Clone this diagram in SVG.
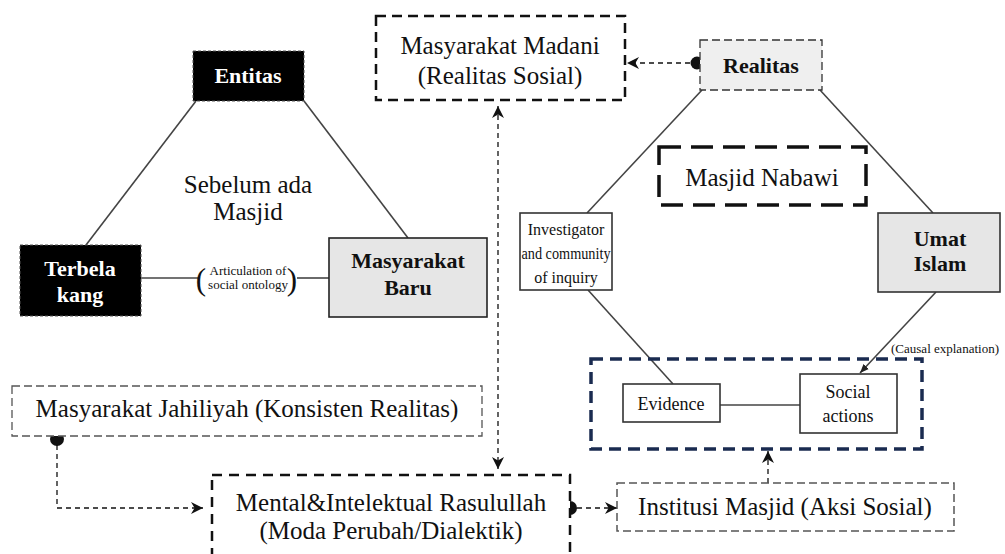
<svg xmlns="http://www.w3.org/2000/svg" width="1005" height="554" viewBox="0 0 1005 554">
<style>
.t{font-family:"Liberation Serif","Times New Roman",serif;fill:#111;text-anchor:middle}
.big{font-size:25px}
.b{font-size:22px;font-weight:bold}
.w{fill:#fff}
.sm{font-size:18px}
.solid{fill:none;stroke:#444;stroke-width:1.6}
.dc{fill:none;stroke:#111;stroke-width:1.3;stroke-dasharray:5 4}
</style>
<defs>
<marker id="ah" viewBox="0 0 10 10" refX="10" refY="5" markerWidth="12" markerHeight="12" markerUnits="userSpaceOnUse" orient="auto-start-reverse">
<path d="M0,0 L10,5 L0,10 L3,5 z" fill="#111"/>
</marker>
<marker id="ah2" viewBox="0 0 10 10" refX="10" refY="5" markerWidth="9" markerHeight="9" markerUnits="userSpaceOnUse" orient="auto">
<path d="M0,1 L10,5 L0,9 z" fill="#222"/>
</marker>
</defs>

<g id="connectors">
<line class="solid" x1="196" y1="101" x2="86" y2="245"/>
<line class="solid" x1="304" y1="101" x2="408" y2="238"/>
<line class="solid" x1="141" y1="278" x2="198" y2="278"/>
<line class="solid" x1="297" y1="278" x2="329" y2="278"/>
<line class="solid" x1="702" y1="90" x2="587" y2="213"/>
<line class="solid" x1="820" y1="90" x2="933" y2="213"/>
<line class="solid" x1="588" y1="290" x2="673" y2="384"/>
<line class="solid" x1="720" y1="405" x2="800" y2="405"/>
<line class="solid" x1="936" y1="292" x2="860" y2="373" marker-end="url(#ah2)"/>
<line class="dc" x1="690" y1="63" x2="627" y2="63" marker-end="url(#ah)"/>
<line class="dc" x1="498" y1="106" x2="498" y2="469" marker-start="url(#ah)" marker-end="url(#ah)"/>
<polyline class="dc" points="57,445 57,508 203,508" marker-end="url(#ah)"/>
<line class="dc" x1="577" y1="508" x2="617" y2="508" marker-end="url(#ah)"/>
<line class="dc" x1="768" y1="483" x2="768" y2="451" marker-end="url(#ah)"/>
<circle cx="697" cy="63" r="6.5" fill="#111"/>
<circle cx="57" cy="439" r="7" fill="#111"/>
<circle cx="570" cy="508" r="7" fill="#111"/>
</g>

<g id="entitas">
<rect x="193" y="51" width="111" height="50" fill="#000" stroke="#555" stroke-width="1" stroke-dasharray="3 2"/>
<text class="t b w" x="248" y="83">Entitas</text>
</g>
<g id="terbelakang">
<rect x="20" y="245" width="121" height="71" fill="#000" stroke="#555" stroke-width="1" stroke-dasharray="3 2"/>
<text class="t b w" x="80" y="276">Terbela</text>
<text class="t b w" x="80" y="302">kang</text>
</g>
<g id="masyarakat-baru">
<rect x="329" y="238" width="158" height="79" fill="#e6e6e6" stroke="#222" stroke-width="1.6"/>
<text class="t b" x="408" y="268">Masyarakat</text>
<text class="t b" x="408" y="295">Baru</text>
</g>
<g id="articulation">
<text class="t" x="201" y="290" font-size="31" fill="#333">(</text>
<text class="t" x="292" y="290" font-size="31" fill="#333">)</text>
<text class="t" x="248" y="275" font-size="13" fill="#333">Articulation of</text>
<text class="t" x="248" y="289" font-size="13" fill="#333">social ontology</text>
</g>
<g id="sebelum">
<text class="t big" x="248" y="193">Sebelum ada</text>
<text class="t big" x="248" y="220">Masjid</text>
</g>

<g id="madani">
<rect x="376" y="16" width="249" height="84" fill="#fff" stroke="#111" stroke-width="2.5" stroke-dasharray="10 6"/>
<text class="t big" x="500" y="54">Masyarakat Madani</text>
<text class="t big" x="500" y="84">(Realitas Sosial)</text>
</g>
<g id="realitas">
<rect x="700" y="40" width="122" height="50" fill="#efefef" stroke="#333" stroke-width="1.3" stroke-dasharray="8 4"/>
<text class="t b" x="761" y="73">Realitas</text>
</g>
<g id="masjid-nabawi">
<rect x="659" y="147" width="207" height="58" fill="#fff" stroke="#111" stroke-width="3.5" stroke-dasharray="22 10"/>
<text class="t big" x="762" y="186">Masjid Nabawi</text>
</g>
<g id="umat-islam">
<rect x="878" y="213" width="122" height="79" fill="#e6e6e6" stroke="#333" stroke-width="1.6"/>
<text class="t b" x="940" y="246">Umat</text>
<text class="t b" x="940" y="271">Islam</text>
</g>
<g id="investigator">
<rect x="520" y="213" width="92" height="77" fill="#fff" stroke="#333" stroke-width="1.6"/>
<text class="t" font-size="16" x="566" y="235">Investigator</text>
<text class="t" font-size="16" x="566" y="259" textLength="89" lengthAdjust="spacingAndGlyphs">and community</text>
<text class="t" font-size="16" x="566" y="283">of inquiry</text>
</g>
<g id="group-box">
<rect x="591" y="359" width="331" height="90" fill="none" stroke="#1a2b50" stroke-width="3.5" stroke-dasharray="12 7"/>
</g>
<g id="evidence">
<rect x="623" y="384" width="97" height="38" fill="#fff" stroke="#333" stroke-width="1.6"/>
<text class="t sm" x="671" y="410">Evidence</text>
</g>
<g id="social-actions">
<rect x="800" y="374" width="97" height="59" fill="#fff" stroke="#333" stroke-width="1.6"/>
<text class="t sm" x="848" y="398">Social</text>
<text class="t sm" x="848" y="422">actions</text>
</g>
<text class="t" x="945" y="353" font-size="13">(Causal explanation)</text>

<g id="jahiliyah">
<rect x="12" y="386" width="470" height="50" fill="#fff" stroke="#555" stroke-width="1.3" stroke-dasharray="8 4"/>
<text class="t big" x="247" y="417">Masyarakat Jahiliyah (Konsisten Realitas)</text>
</g>
<g id="mental">
<rect x="212" y="475" width="358" height="100" fill="#fff" stroke="#111" stroke-width="2.5" stroke-dasharray="10 7"/>
<text class="t big" x="391" y="511">Mental&amp;Intelektual Rasulullah</text>
<text class="t big" x="391" y="539">(Moda Perubah/Dialektik)</text>
</g>
<g id="institusi">
<rect x="617" y="483" width="337" height="48" fill="#fff" stroke="#555" stroke-width="1.5" stroke-dasharray="8 4"/>
<text class="t big" x="785" y="515">Institusi Masjid (Aksi Sosial)</text>
</g>
</svg>
